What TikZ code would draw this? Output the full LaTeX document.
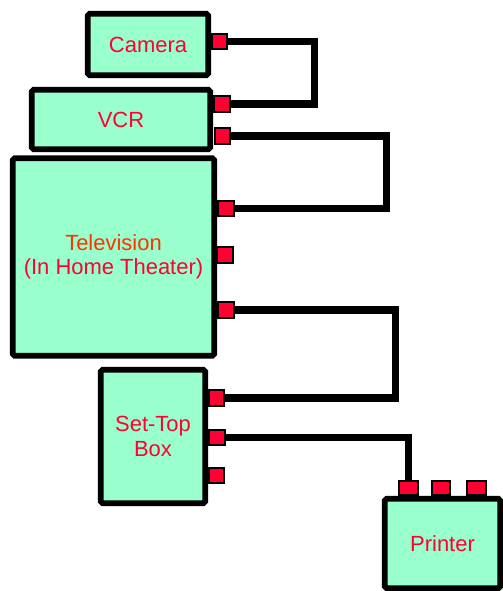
\documentclass[tikz,border=0pt]{standalone}
\usepackage{fontspec}
\setmainfont{Liberation Sans}
\definecolor{mint}{RGB}{153,255,204}
\definecolor{crimson}{RGB}{255,0,51}
\definecolor{tvred}{RGB}{255,51,0}

\begin{document}
\begin{tikzpicture}[x=0.02cm, y=-0.02cm,
  box/.style={draw, line width=3.2pt, fill=mint, rounded corners=1pt, align=center,
    inner sep=0pt, font=\fontsize{12.5}{13.8}\selectfont, text=crimson},
  port/.style={draw, line width=0.9pt, fill=crimson, inner sep=0pt,
    minimum width=0.31cm, minimum height=0.31cm},
  wire/.style={line width=4pt, line join=miter}
]
\useasboundingbox (0,0) rectangle (503,591);
\node[box, minimum width=2.41cm, minimum height=1.23cm] (camera) at (148,44.5) {Camera};
\node[box, minimum width=3.57cm, minimum height=1.19cm] (vcr) at (121,119.5) {VCR};
\node[box, minimum width=4.03cm, minimum height=3.95cm] (tv) at (113.5,257)
  {\textcolor{tvred}{Television}\\(In Home Theater)};
\node[box, minimum width=2.09cm, minimum height=2.67cm] (stb) at (153,436.5) {Set-Top\\Box};
\node[box, minimum width=2.31cm, minimum height=1.79cm] (printer) at (442.5,543.5) {Printer};
% ports
\node[port] (camp) at (219.5,41.5) {};
\node[port] (vcrpa) at (222,104) {};
\node[port] (vcrpb) at (222.5,136) {};
\node[port] (tvpa) at (226,208.5) {};
\node[port] (tvpb) at (225,255) {};
\node[port] (tvpc) at (226,310) {};
\node[port] (stbpa) at (216.5,398) {};
\node[port] (stbpb) at (217,437.5) {};
\node[port] (stbpc) at (216.5,475.5) {};
\node[port, minimum width=0.37cm, minimum height=0.28cm] (prnpa) at (408.5,488) {};
\node[port, minimum width=0.37cm, minimum height=0.28cm] (prnpb) at (441,488) {};
\node[port, minimum width=0.37cm, minimum height=0.28cm] (prnpc) at (476.5,488) {};
% cables
\draw[wire] (camp.east) -- ++(86,0) |- (vcrpa.east);
\draw[wire] (vcrpb.east) -- ++(155,0) |- (tvpa.east);
\draw[wire] (tvpc.east) -- ++(160.5,0) |- (stbpa.east);
\draw[wire, line width=3.5pt] (stbpb.east) -| (prnpa.north);
\end{tikzpicture}
\end{document}
